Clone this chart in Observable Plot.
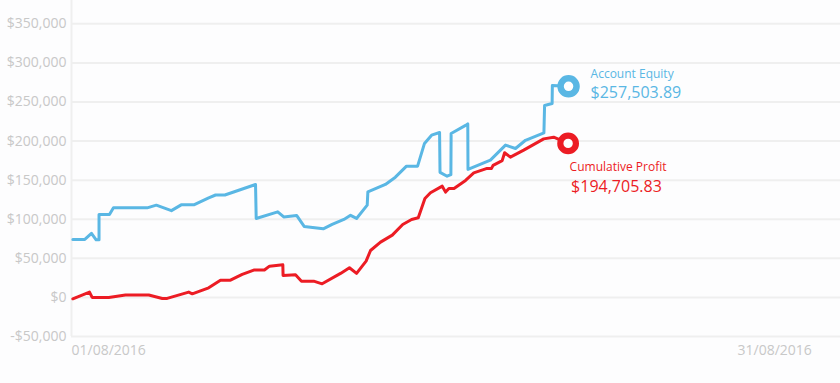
<!DOCTYPE html>
<html>
<head>
<meta charset="utf-8">
<script src="https://cdn.jsdelivr.net/npm/d3@7"></script>
<script src="https://cdn.jsdelivr.net/npm/@observablehq/plot@0.6"></script>
<style>
  html, body { margin: 0; padding: 0; background: #fdfdfe; }
  #chart svg { display: block; }
</style>
</head>
<body>
<div id="chart"></div>
<script>
// Day of August 2016 (fractional) and values
const equityDay = [1.06, 1.60, 1.90, 2.11, 2.24, 2.24, 2.71, 2.89, 4.41, 4.82, 5.50, 5.94, 6.51, 7.18, 7.49, 7.91, 9.29, 9.32, 10.29, 10.56, 11.14, 11.48, 12.34, 12.74, 13.27, 13.57, 13.84, 14.32, 14.35, 15.14, 15.59, 16.09, 16.59, 16.90, 17.22, 17.58, 17.60, 17.92, 18.09, 18.10, 18.75, 18.85, 18.86, 19.87, 20.55, 21.00, 21.45, 22.28, 22.31, 22.65, 22.66, 23.39];
const equityValue = [74200, 74200, 82000, 73700, 73700, 106000, 106000, 114600, 114600, 118000, 111000, 118400, 118400, 127400, 131000, 131000, 144500, 101000, 109500, 103000, 104900, 90800, 87700, 93400, 99700, 105000, 101000, 118000, 135000, 144500, 153800, 167900, 167900, 197000, 207500, 211000, 160000, 155000, 157000, 209700, 220000, 222000, 163700, 175600, 194800, 190500, 201000, 210500, 245500, 248000, 271000, 270000];

const profitDay = [1.06, 1.81, 1.93, 2.68, 3.43, 4.48, 5.09, 5.31, 6.28, 6.44, 7.18, 7.71, 8.16, 8.69, 9.21, 9.69, 9.92, 10.52, 10.53, 11.09, 11.36, 11.91, 12.29, 13.12, 13.52, 13.84, 14.27, 14.47, 14.92, 15.45, 15.92, 16.32, 16.62, 16.92, 17.17, 17.70, 17.85, 18.00, 18.23, 18.75, 19.12, 19.72, 19.92, 19.99, 20.40, 20.51, 20.77, 21.37, 22.27, 22.72, 23.37];
const profitValue = [-1800, 6800, 0, 0, 3000, 3000, -1300, -1300, 6800, 4600, 12300, 22000, 22000, 29400, 35000, 35000, 40000, 41700, 28000, 29000, 20800, 20800, 17400, 30700, 37900, 30700, 46400, 60000, 70700, 79700, 93300, 99700, 101800, 126600, 133800, 142300, 134700, 139400, 139400, 149600, 159300, 165000, 165000, 169000, 175000, 185000, 179400, 188400, 202800, 205000, 197000];

const seriesNames = ["Account Equity", "Cumulative Profit"];
const seriesTotals = ["$257,503.89", "$194,705.83"];
const seriesColors = ["#5ab7e4", "#ec1c24"];

const yTicks = [-50000, 0, 50000, 100000, 150000, 200000, 250000, 300000, 350000];
const xTickDays = [1, 31];
const xTickLabels = ["01/08/2016", "31/08/2016"];

const equity = equityDay.map((d, i) => ({day: d, value: equityValue[i]}));
const profit = profitDay.map((d, i) => ({day: d, value: profitValue[i]}));
const equityEnd = [equity[equity.length - 1]];
const profitEnd = [profit[profit.length - 1]];

const fmt = d3.format(",");
const yFmt = d => (d < 0 ? "-$" : "$") + fmt(Math.abs(d));

const chart = Plot.plot({
  width: 840,
  height: 383,
  marginLeft: 71,
  marginRight: 0,
  marginTop: 0,
  marginBottom: 47,
  style: {fontFamily: "'Open Sans', sans-serif", fontSize: "14px", background: "#fdfdfe", overflow: "visible"},
  x: {domain: [1, 1 + 769 / 22.2]},
  y: {domain: [-50000, 379800]},
  marks: [
    Plot.gridY(yTicks, {stroke: "#efefef", strokeOpacity: 1, strokeWidth: 2}),
    Plot.ruleX([1], {stroke: "#efefef", strokeWidth: 2}),
    Plot.axisY(yTicks, {tickSize: 0, tickPadding: 5, tickFormat: yFmt, fill: "#c8c8c8", fontSize: 14, label: null}),
    Plot.axisX(xTickDays, {tickSize: 0, tickPadding: 9, tickFormat: (d, i) => xTickLabels[i], textAnchor: "start", fill: "#c8c8c8", fontSize: 14, label: null}),
    Plot.line(equity, {x: "day", y: "value", stroke: seriesColors[0], strokeWidth: 3, curve: "linear"}),
    Plot.line(profit, {x: "day", y: "value", stroke: seriesColors[1], strokeWidth: 3, curve: "linear"}),
    Plot.dot(equityEnd, {x: "day", y: "value", r: 8, stroke: seriesColors[0], strokeWidth: 6.5, fill: "#fff"}),
    Plot.dot(profitEnd, {x: "day", y: "value", r: 7.8, stroke: seriesColors[1], strokeWidth: 6.2, fill: "#fff"}),
    Plot.text(equityEnd, {x: "day", y: "value", text: () => seriesNames[0], dx: 22, dy: -8, textAnchor: "start", lineAnchor: "bottom", fill: seriesColors[0], fontSize: 12}),
    Plot.text(equityEnd, {x: "day", y: "value", text: () => seriesTotals[0], dx: 22, dy: 12, textAnchor: "start", lineAnchor: "bottom", fill: seriesColors[0], fontSize: 16}),
    Plot.text(profitEnd, {x: "day", y: "value", text: () => seriesNames[1], dx: 1.5, dy: 28, textAnchor: "start", lineAnchor: "bottom", fill: seriesColors[1], fontSize: 12}),
    Plot.text(profitEnd, {x: "day", y: "value", text: () => seriesTotals[1], dx: 3, dy: 49, textAnchor: "start", lineAnchor: "bottom", fill: seriesColors[1], fontSize: 16})
  ]
});
document.getElementById("chart").appendChild(chart);
</script>
</body>
</html>
